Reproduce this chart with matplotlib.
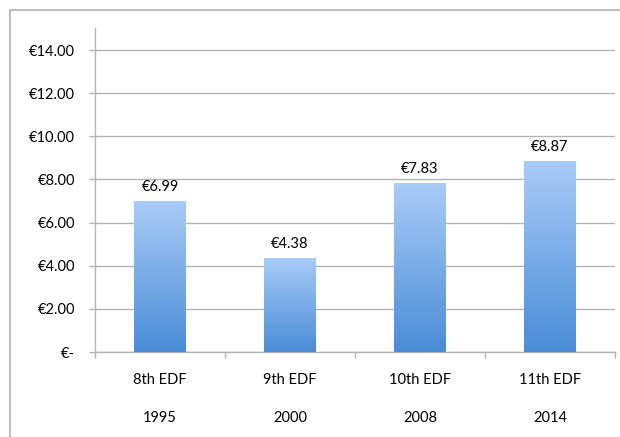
import matplotlib
matplotlib.use("Agg")
import matplotlib.pyplot as plt
import numpy as np
from matplotlib.patches import Rectangle
from matplotlib.colors import LinearSegmentedColormap

categories = ["8th EDF", "9th EDF", "10th EDF", "11th EDF"]
years = ["1995", "2000", "2008", "2014"]
values = [6.99, 4.38, 7.83, 8.87]
yticks = [0, 2, 4, 6, 8, 10, 12, 14]

plt.rcParams['font.family'] = ['Lato', 'DejaVu Sans']
W, H = 620, 437
fig = plt.figure(figsize=(W / 100, H / 100), dpi=100)
ax = fig.add_axes([95 / W, 1 - 352 / H, (615 - 95) / W, (352 - 28) / H])

grid_c = "#B4B4B4"
fs = 10.5
x = np.arange(len(categories))
bars = ax.bar(x, values, width=0.4, color="none", edgecolor="none", zorder=3)

cmap = LinearSegmentedColormap.from_list("g", ["#4A8CD6", "#A9CCF8"])
grad = np.linspace(0, 1, 256).reshape(-1, 1)
for b in bars:
    x0, y0, w, h = b.get_x(), b.get_y(), b.get_width(), b.get_height()
    im = ax.imshow(grad, cmap=cmap, origin="lower", aspect="auto",
                   extent=(x0, x0 + w, y0, y0 + h), zorder=3)
    im.set_clip_path(b)

ax.set_xlim(-0.5, len(categories) - 0.5)
ax.set_ylim(0, 15.02)
ax.set_yticks(yticks)
ax.set_yticklabels(["€-" if v == 0 else f"€{v:.2f}" for v in yticks])
ax.set_xticks(np.arange(len(categories) + 1) - 0.5)
ax.set_xticklabels([])
ax.yaxis.grid(True, color=grid_c, linewidth=1.0, zorder=0)
ax.set_axisbelow(True)
for s in ["top", "right"]:
    ax.spines[s].set_visible(False)
for s in ["left", "bottom"]:
    ax.spines[s].set_color(grid_c)
    ax.spines[s].set_linewidth(1.0)
ax.tick_params(axis="both", color=grid_c, length=4, width=1.0)
ax.tick_params(axis="y", pad=10.5, labelsize=fs, labelcolor="#000000")

for xi, v in zip(x, values):
    ax.annotate(f"€{v:.2f}", (xi, v), xytext=(0, 5), textcoords="offset points",
                ha="center", va="bottom", fontsize=fs, color="#000000")

for xi, c, yr in zip(x, categories, years):
    ax.annotate(c, (xi, 0), xycoords=("data", "axes fraction"), xytext=(0, -20.5),
                textcoords="offset points", ha="center", va="center", fontsize=fs, color="#000000")
    ax.annotate(yr, (xi, 0), xycoords=("data", "axes fraction"), xytext=(0, -47.5),
                textcoords="offset points", ha="center", va="center", fontsize=fs, color="#000000")

fig.patches.append(Rectangle((10 / W, -0.1), 1.2, 1 - 10 / H + 0.1, transform=fig.transFigure,
                             fill=False, edgecolor="#BDBDBD", linewidth=1.5))

fig.savefig("out.png", dpi=100)
